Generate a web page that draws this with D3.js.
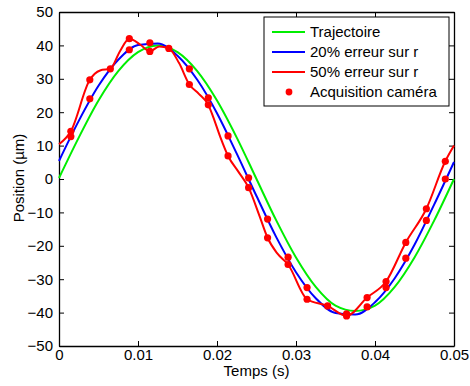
<!DOCTYPE html>
<html>
<head>
<meta charset="utf-8">
<script src="https://cdn.jsdelivr.net/npm/d3@7"></script>
<style>
  body { margin: 0; background: #fff; }
  text { font-family: "Liberation Sans", Arial, sans-serif; }
</style>
</head>
<body>
<div id="chart"></div>
<script>
// time samples (s) for the smooth curves
const tGrid = [0, 0.0025, 0.005, 0.0075, 0.01, 0.0125, 0.015, 0.0175, 0.02, 0.0225,
  0.025, 0.0275, 0.03, 0.0325, 0.035, 0.0375, 0.04, 0.0425, 0.045, 0.0475, 0.05];
const trajectoire = [0.3, 12.4, 23.5, 32.3, 38.0, 40.0, 38.0, 32.3, 23.5, 12.4,
  0, -12.4, -23.5, -32.3, -37.9, -39.5, -37.9, -32.3, -23.5, -12.4, 0];
const erreur20 = [5.4, 17.4, 27.9, 35.7, 40.1, 40.6, 36.9, 29.7, 19.7, 7.6,
  -5.1, -17.4, -27.9, -35.7, -40.1, -40.6, -36.9, -29.7, -19.7, -7.6, 5.1];

// 50% error curve
const tRed = [0, 0.0015, 0.0039, 0.0052, 0.0065, 0.0077, 0.0089, 0.0103, 0.0115, 0.0127,
  0.0139, 0.0152, 0.0165, 0.0177, 0.0189, 0.0195, 0.0204, 0.0214, 0.0227, 0.024,
  0.0254, 0.0264, 0.0276, 0.029, 0.0314, 0.034, 0.0364, 0.039, 0.0414, 0.0439,
  0.0465, 0.0489, 0.05];
const erreur50 = [10.4, 14.3, 29.7, 32.5, 33.0, 38.2, 42.0, 40.2, 38.2, 39.7,
  39.1, 34.7, 28.3, 25.5, 22.2, 18.7, 12.7, 6.9, 2.2, -2.6,
  -11.2, -17.6, -22.2, -25.6, -36.0, -38.0, -41.0, -35.5, -30.7, -19.0,
  -8.9, 5.3, 10.0];

// camera acquisitions
const tCam = [0.0015, 0.0015, 0.0039, 0.0039, 0.0065, 0.0089, 0.0089, 0.0115, 0.0115, 0.0139,
  0.0165, 0.0165, 0.0189, 0.0189, 0.0214, 0.0214, 0.024, 0.024, 0.0264, 0.0264,
  0.029, 0.029, 0.0314, 0.0314, 0.034, 0.0364, 0.0364, 0.039, 0.039, 0.0414,
  0.0414, 0.0439, 0.0439, 0.0465, 0.0465, 0.0489, 0.0489];
const camera = [14.3, 12.7, 29.7, 24.0, 33.0, 42.0, 38.7, 40.8, 38.2, 39.1,
  33.0, 28.3, 24.3, 22.2, 12.9, 6.9, 0.35, -2.6, -12.0, -17.6,
  -23.4, -25.6, -32.5, -36.0, -38.0, -40.4, -41.0, -35.5, -38.3, -30.7,
  -32.5, -19.0, -23.7, -8.9, -12.4, 5.3, 0.0];

const xTicks = [0, 0.01, 0.02, 0.03, 0.04, 0.05];
const yTicks = [-50, -40, -30, -20, -10, 0, 10, 20, 30, 40, 50];
const legendLabels = ["Trajectoire", "20% erreur sur r", "50% erreur sur r", "Acquisition caméra"];

const W = 470, H = 386;
const margin = { top: 12, right: 16, bottom: 40, left: 59 };
const width = W - margin.left - margin.right,
  height = H - margin.top - margin.bottom;

const svg = d3.select("#chart").append("svg")
  .attr("width", W).attr("height", H);
const g = svg.append("g")
  .attr("transform", `translate(${margin.left}, ${margin.top})`);

const x = d3.scaleLinear().domain([0, 0.05]).range([0, width]);
const y = d3.scaleLinear().domain([-50, 50]).range([height, 0]);

const fmtX = (d) => (d === 0 ? "0" : d3.format(".2f")(d));
const fmtY = (d) => (d < 0 ? "\u2212" + Math.abs(d) : "" + d);

// axes, MATLAB style: ticks inside, box on
const tk = 5;
g.append("g").attr("transform", `translate(0, ${height})`)
  .call(d3.axisBottom(x).tickValues(xTicks).tickFormat(fmtX).tickSizeInner(-tk).tickSizeOuter(0).tickPadding(3));
g.append("g")
  .call(d3.axisTop(x).tickValues(xTicks).tickFormat("").tickSizeInner(-tk).tickSizeOuter(0));
g.append("g")
  .call(d3.axisLeft(y).tickValues(yTicks).tickFormat(fmtY).tickSizeInner(-tk).tickSizeOuter(0).tickPadding(6));
g.append("g").attr("transform", `translate(${width}, 0)`)
  .call(d3.axisRight(y).tickValues(yTicks).tickFormat("").tickSizeInner(-tk).tickSizeOuter(0));

g.selectAll(".tick text").style("font-size", "15px").attr("fill", "#000");
g.selectAll(".domain").attr("stroke", "#000").attr("stroke-width", 1.3);
g.selectAll(".tick line").attr("stroke", "#000");

// lines
const path = d3.line().x((d) => x(d[0])).y((d) => y(d[1])).curve(d3.curveMonotoneX);

const series = [
  { pts: tGrid.map((t, i) => [t, trajectoire[i]]), color: "#00ee00" },
  { pts: tGrid.map((t, i) => [t, erreur20[i]]), color: "#0000ff" },
  { pts: tRed.map((t, i) => [t, erreur50[i]]), color: "#ff0000" }
];
g.selectAll(".serie").data(series).join("path")
  .attr("class", "serie")
  .attr("d", (d) => path(d.pts))
  .attr("fill", "none")
  .attr("stroke", (d) => d.color)
  .attr("stroke-width", 2);

g.selectAll(".cam").data(tCam.map((t, i) => [t, camera[i]])).join("circle")
  .attr("class", "cam")
  .attr("cx", (d) => x(d[0]))
  .attr("cy", (d) => y(d[1]))
  .attr("r", 3.6)
  .attr("fill", "#ff0000");

// legend
const lg = svg.append("g").attr("transform", "translate(264, 17)");
lg.append("rect").attr("width", 185).attr("height", 89)
  .attr("fill", "#fff").attr("stroke", "#000").attr("stroke-width", 1);
const legColors = ["#00ee00", "#0000ff", "#ff0000", "#ff0000"];
legendLabels.forEach((lab, i) => {
  const yy = 15 + i * 20;
  if (i < 3) {
    lg.append("line").attr("x1", 8).attr("x2", 41).attr("y1", yy).attr("y2", yy)
      .attr("stroke", legColors[i]).attr("stroke-width", 2);
  } else {
    lg.append("circle").attr("cx", 25).attr("cy", yy).attr("r", 3.4).attr("fill", legColors[i]);
  }
  lg.append("text").attr("x", 46).attr("y", yy + 5)
    .style("font-size", "15px").text(lab);
});

// axis titles
svg.append("text")
  .attr("x", margin.left + width / 2).attr("y", 376)
  .attr("text-anchor", "middle").style("font-size", "15px")
  .text("Temps (s)");
svg.append("text")
  .attr("transform", `translate(24, 178) rotate(-90)`)
  .attr("text-anchor", "middle").style("font-size", "15px")
  .text("Position (\u00b5m)");
</script>
</body>
</html>
